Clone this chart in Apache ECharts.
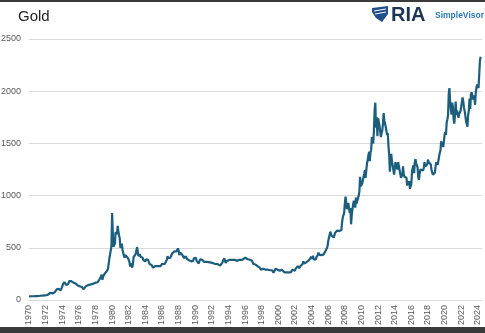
<!DOCTYPE html>
<html><head><meta charset="utf-8">
<script src="https://cdn.jsdelivr.net/npm/echarts@6/dist/echarts.min.js"></script>
<style>html,body{margin:0;padding:0;background:#fff}#c{width:485px;height:333px}</style>
</head><body><div id="c"></div>
<script>
// Monthly gold price (USD/oz), starting January 1970
const startYear = 1970;
const gold1970s = [
 35,35,35,36,36,35.5,35.3,35.4,36.2,37.5,37.4,37.4,
 38,38.7,38.9,39.5,40.5,40.1,41,42.7,42,42.5,42.9,43.5,
 46,48,48.3,49,54.6,65,67.7,67,65.5,64.9,62.9,64.9,
 65,74,84,90,102,120,120,106,103,100,94,112,
 130,150,168,172,163,154,143,154,151,158,181,183,
 175,180,178,170,167,165,166,159,141,142,142,140,
 128,132,130,128,126,125,117,104,116,123,130,134,
 132,142,149,149,147,141,144,145,154,161,161,164,
 175,182,181,170,184,183,200,208,217,242,194,226,
 233,252,240,245,274,277,296,315,397,383,415,512
];
const gold1980s = [
 834,640,510,520,540,650,640,630,710,660,620,590,
 500,490,540,480,480,425,405,430,430,430,410,400,
 385,365,320,350,330,310,340,410,400,420,440,455,
 505,490,420,435,440,415,420,415,405,385,400,385,
 370,390,395,375,385,375,345,350,345,335,330,310,
 305,295,325,320,315,315,325,335,325,325,325,325,
 345,340,345,345,345,345,355,385,420,400,385,390,
 405,405,420,450,460,450,465,455,460,465,470,495,
 475,430,455,450,455,435,435,430,400,410,420,410,
 395,390,385,380,365,375,370,360,365,375,400,400
];
const gold1990s = [
 415,405,375,365,365,350,370,390,400,380,385,385,
 370,365,355,360,360,365,365,355,355,360,365,355,
 355,355,345,340,340,345,355,340,345,340,335,335,
 330,330,340,355,375,375,400,375,355,370,375,390,
 380,380,385,375,385,385,385,385,395,385,385,380,
 375,375,390,390,385,385,385,385,385,385,385,385,
 405,405,395,395,390,385,385,385,380,380,375,370,
 345,360,350,340,345,340,325,325,330,310,300,290,
 300,300,300,310,295,295,290,275,295,290,295,290,
 285,290,280,285,270,260,255,255,300,300,295,290
];
const gold2000s = [
 285,300,280,275,275,290,280,275,275,265,270,275,
 265,265,260,265,270,270,265,275,290,280,275,275,
 280,300,300,310,325,320,305,310,325,315,320,345,
 370,350,335,340,360,345,355,375,385,385,395,415,
 400,395,425,390,395,395,390,410,415,430,455,435,
 420,435,430,435,415,435,430,435,470,470,495,515,
 565,555,580,655,645,615,630,625,600,600,645,630,
 650,665,665,680,660,650,665,670,745,790,785,835,
 925,990,930,870,885,930,920,835,880,725,815,870,
 920,950,915,885,980,925,950,955,1000,1040,1180,1090
];
const gold2010s = [
 1080,1115,1115,1180,1210,1245,1170,1245,1310,1345,1385,1420,
 1330,1410,1440,1560,1530,1500,1630,1820,1890,1650,1750,1570,
 1740,1710,1670,1660,1560,1600,1620,1690,1790,1720,1720,1660,
 1660,1580,1600,1470,1390,1230,1320,1400,1330,1320,1250,1200,
 1250,1320,1290,1290,1250,1320,1280,1290,1210,1170,1180,1200,
 1280,1210,1180,1180,1190,1170,1095,1135,1115,1140,1065,1060,
 1115,1235,1235,1290,1215,1320,1350,1310,1320,1270,1175,1150,
 1210,1250,1245,1265,1265,1240,1270,1320,1280,1270,1275,1300,
 1345,1320,1325,1315,1300,1250,1225,1200,1190,1215,1220,1280,
 1320,1315,1295,1285,1305,1410,1430,1520,1485,1510,1465,1520
];
const gold2020s = [
 1585,1610,1580,1700,1730,1770,1975,2030,1885,1880,1775,1890,
 1850,1730,1690,1770,1900,1770,1815,1815,1745,1780,1775,1810,
 1800,1900,1940,1900,1840,1810,1765,1710,1700,1660,1770,1815,
 1930,1830,1970,1990,1960,1920,1960,1940,1870,1985,2035,2065,
 2050,2030,2160,2290,2330
];
const yTicks = [0,500,1000,1500,2000,2500];
const xTickStep = 2;

const values = [].concat(gold1970s, gold1980s, gold1990s, gold2000s, gold2010s, gold2020s);
const seriesData = values.map((v, i) => [startYear + i / 12, v]);

const chart = echarts.init(document.getElementById('c'), null, {renderer: 'canvas'});
chart.setOption({
  animation: false,
  backgroundColor: '#ffffff',
  grid: {left: 29, right: 3, top: 39, bottom: 33, containLabel: false, outerBoundsMode: 'none'},
  xAxis: {
    type: 'value', min: 1970, max: 2024.5, interval: xTickStep,
    axisLine: {show: true, lineStyle: {color: '#d9d9d9'}},
    axisTick: {show: false},
    splitLine: {show: false},
    axisLabel: {rotate: 90, color: '#595959', fontSize: 9, margin: 5,
      fontFamily: 'Liberation Sans, Arial, sans-serif',
      showMaxLabel: false, formatter: v => String(v)}
  },
  yAxis: {
    type: 'value', min: yTicks[0], max: yTicks[yTicks.length - 1], interval: 500,
    axisLine: {show: false}, axisTick: {show: false},
    splitLine: {lineStyle: {color: '#d9d9d9', width: 1}},
    axisLabel: {color: '#595959', fontSize: 9, margin: 8,
      fontFamily: 'Liberation Sans, Arial, sans-serif', formatter: v => String(v)}
  },
  series: [{
    type: 'line', data: seriesData, showSymbol: false, symbol: 'none',
    lineStyle: {color: '#1b5e7e', width: 2.2}
  }],
  graphic: [
    {type: 'rect', left: 0, top: 0, shape: {width: 485, height: 2}, style: {fill: '#3a3a3a'}},
    {type: 'rect', left: 0, top: 327, shape: {width: 485, height: 6}, style: {fill: '#3a3a3a'}},
    {type: 'text', left: 18, top: 9, style: {text: 'Gold', fontSize: 15, fill: '#222', fontFamily: 'Liberation Sans, Arial, sans-serif'}},
    {type: 'polygon', shape: {points: [[372,8],[388,6],[388,14],[382,22],[376,18],[372,12]]}, style: {fill: '#1f4e8a'}},
    {type: 'polyline', shape: {points: [[374,11],[386,9]]}, style: {stroke: '#fff', lineWidth: 1}},
    {type: 'polyline', shape: {points: [[375,14],[386,12]]}, style: {stroke: '#fff', lineWidth: 1}},
    {type: 'text', left: 391, top: 5, style: {text: 'RIA', fontSize: 20, fontWeight: 'bold', fill: '#1c3553', fontFamily: 'Liberation Sans, Arial, sans-serif'}},
    {type: 'text', left: 435, top: 11, style: {text: 'SimpleVisor', fontSize: 8.5, fontWeight: 'bold', fill: '#2a79b8', fontFamily: 'Liberation Sans, Arial, sans-serif'}}
  ]
});
</script>
</body></html>
